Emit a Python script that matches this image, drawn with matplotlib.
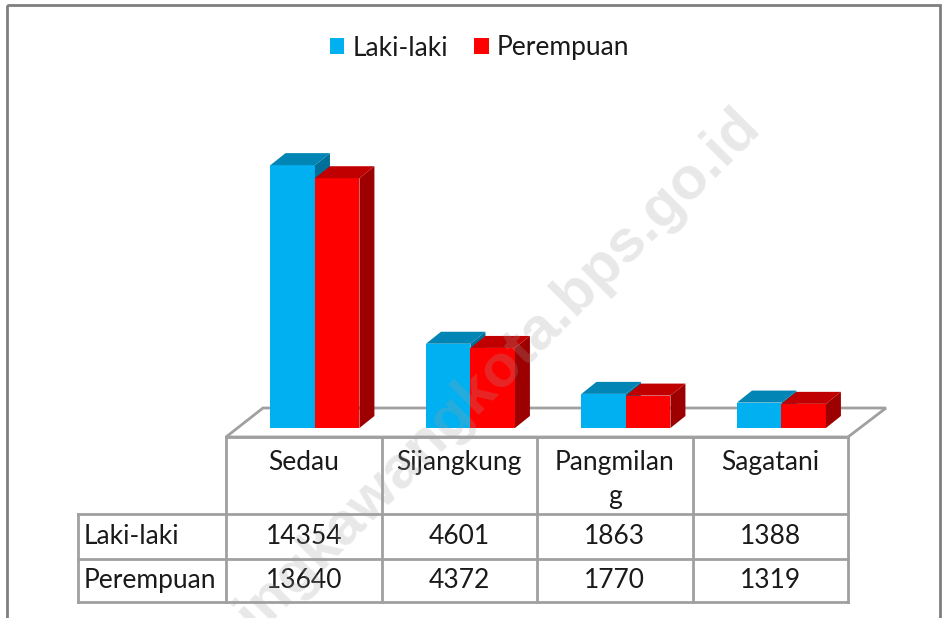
import matplotlib.pyplot as plt
from matplotlib.patches import Polygon, Rectangle

plt.rcParams['font.family'] = ['Lato', 'DejaVu Sans']

categories = ['Sedau', 'Sijangkung', 'Pangmilan\ng', 'Sagatani']
laki = [14354, 4601, 1863, 1388]
perempuan = [13640, 4372, 1770, 1319]
series_names = ['Laki-laki', 'Perempuan']

blue, blue_top, blue_side = '#00B0F0', '#0085B5', '#006F99'
red, red_top, red_side = '#FF0000', '#C00000', '#9C0000'
grey = '#A0A0A0'
fs = 19

fig = plt.figure(figsize=(9.43, 6.18), dpi=100)

# background layer in pixel coordinates: frame, floor, table
ax0 = fig.add_axes([0, 0, 1, 1])
ax0.set_xlim(0, 943)
ax0.set_ylim(618, 0)
ax0.axis('off')
ax0.add_patch(Rectangle((7, 5), 933, 700, fill=False, edgecolor='#7F7F7F', lw=2))

col_w = 155.5
x0 = 226
edges = [x0 + col_w * k for k in range(len(categories) + 1)]
rows = [437, 514, 559, 602]

# floor
ax0.add_patch(Polygon([(edges[0], rows[0]), (edges[-1], rows[0]),
                       (edges[-1] + 38, rows[0] - 29), (edges[0] + 37, rows[0] - 29)],
                      closed=True, facecolor='white', edgecolor=grey, lw=2))

# table grid
ax0.plot([edges[0], edges[-1]], [rows[0], rows[0]], color=grey, lw=2)
for y in rows[1:]:
    ax0.plot([78, edges[-1]], [y, y], color=grey, lw=2)
for x in edges:
    ax0.plot([x, x], [rows[0], rows[-1]], color=grey, lw=2)
ax0.plot([78, 78], [rows[1], rows[-1]], color=grey, lw=2)

for i, name in enumerate(categories):
    cx = (edges[i] + edges[i + 1]) / 2
    ax0.text(cx, 450, name, ha='center', va='top', fontsize=fs, linespacing=1.45, color='#1A1A1A')
    for r, vals in enumerate([laki, perempuan]):
        cy = (rows[r + 1] + rows[r + 2]) / 2
        ax0.text(cx, cy, str(vals[i]), ha='center', va='center', fontsize=fs, color='#1A1A1A')
for r, name in enumerate(series_names):
    cy = (rows[r + 1] + rows[r + 2]) / 2
    ax0.text(84, cy, name, ha='left', va='center', fontsize=fs, color='#1A1A1A')

# bars layer in data coordinates
ymax = 16000
ax = fig.add_axes([226 / 943, (618 - 428) / 618, 622 / 943, 293 / 618])
ax.set_xlim(-0.5, len(categories) - 0.5)
ax.set_ylim(0, ymax)
ax.axis('off')
ax.patch.set_alpha(0)

w = 0.286
shift = 0.072
dx = 15 / col_w
dy = 12 * ymax / 293

def bars3d(xs, vals, front, top, side, label):
    ax.bar(xs, vals, width=w, align='edge', color=front, lw=0, label=label, zorder=2)
    for x, v in zip(xs, vals):
        ax.add_patch(Polygon([(x + w, 0), (x + w, v), (x + w + dx, v + dy), (x + w + dx, dy)],
                             closed=True, facecolor=side, lw=0, zorder=2))
        ax.add_patch(Polygon([(x, v), (x + w, v), (x + w + dx, v + dy), (x + dx, v + dy)],
                             closed=True, facecolor=top, lw=0, zorder=2))

idx = range(len(categories))
bars3d([i + shift - w for i in idx], laki, blue, blue_top, blue_side, series_names[0])
bars3d([i + shift for i in idx], perempuan, red, red_top, red_side, series_names[1])

fig.legend(loc='center', bbox_to_anchor=(479.5 / 943, 1 - 48 / 618), ncol=2, frameon=False,
           fontsize=fs, handlelength=0.55, handleheight=0.55, handletextpad=0.3,
           columnspacing=1.0, labelcolor='#1A1A1A')

# watermark
fig.text(488 / 943, 1 - 382 / 618, 'singkawangkota.bps.go.id', rotation=45, rotation_mode='anchor',
         ha='center', va='center', fontsize=43, fontweight='bold', family='Liberation Sans',
         color='#A0A0A0', alpha=0.24, zorder=5)

fig.savefig('out.png', dpi=100)
